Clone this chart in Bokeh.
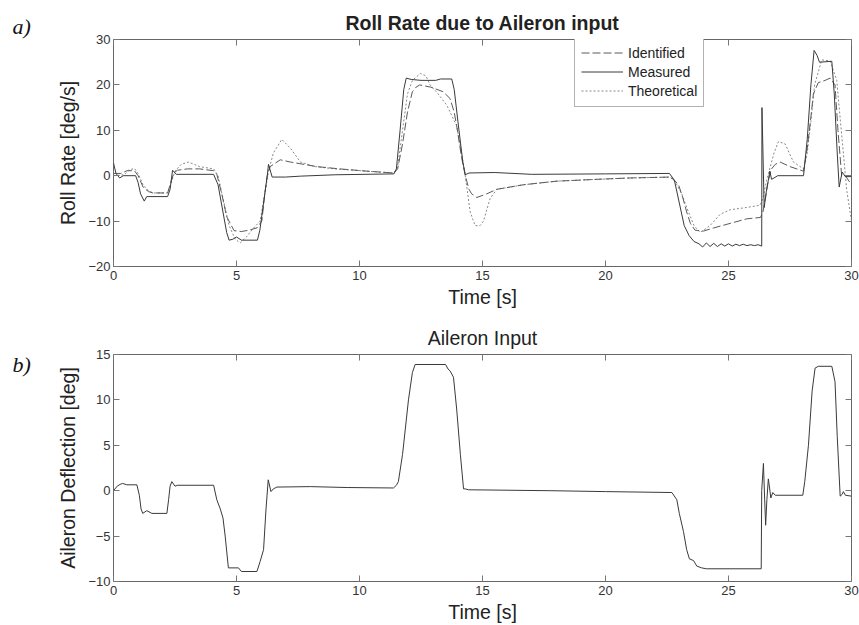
from bokeh.plotting import figure
from bokeh.models import (Range1d, LinearAxis, FixedTicker, Legend, LegendItem, Title)
from bokeh.core.properties import value
from bokeh.layouts import column, row
from bokeh.embed import file_html
from bokeh.resources import INLINE

# ---------------- data ----------------
t_meas = [0.0, 0.1, 0.25, 0.4, 0.9, 1.0, 1.1, 1.25, 1.35, 2.2, 2.3, 2.4, 2.55, 4.07, 4.25, 4.45,
          4.6, 4.7, 4.85, 5.0, 5.2, 5.85, 5.95, 6.1, 6.25, 6.3, 6.45, 7.0, 7.6, 9.0, 11.4, 11.5,
          11.65, 11.8, 11.9, 12.1, 12.5, 13.1, 13.3, 13.75, 13.85, 14.0, 14.2, 14.3, 14.45, 15.5,
          17.0, 20.0, 22.6, 22.8, 23.0, 23.2, 23.4, 23.6, 23.8, 23.95, 24.1, 24.25, 24.4, 24.55,
          24.7, 24.85, 25.0, 25.15, 25.3, 25.45, 25.6, 25.75, 25.9, 26.05, 26.2, 26.35, 26.36,
          26.45, 26.55, 26.62, 26.68, 26.75, 26.85, 27.0, 28.05, 28.2, 28.35, 28.48, 28.6, 28.7,
          29.2, 29.3, 29.42, 29.5, 29.62, 29.75, 30.0]
measured = [2.8, 0.5, -0.5, 0.0, 0.0, -1.5, -4.0, -5.6, -4.6, -4.6, -3.0, 1.2, 0.3, 0.3, -2.0, -8.0,
            -12.5, -14.2, -14.0, -13.5, -14.2, -14.2, -12.0, -6.0, 0.0, 2.5, -0.3, -0.3, -0.1, 0.2, 0.4, 1.5,
            10.0, 19.0, 21.5, 21.2, 21.0, 21.0, 21.3, 21.3, 19.0, 12.0, 3.0, 0.2, 0.6, 0.7,
            0.3, 0.4, 0.5, -1.0, -6.0, -11.0, -13.2, -14.5, -15.0, -15.7, -14.8, -15.6, -14.9, -15.6,
            -15.0, -15.5, -15.0, -15.5, -15.1, -15.4, -15.1, -15.4, -15.2, -15.4, -15.2, -15.5, 15.0,
            -7.0, -3.0, -1.0, 1.0, -0.8, -0.5, 0.0, 0.0, 8.0, 20.0, 27.6, 26.5, 25.0,
            25.2, 18.0, 5.0, -2.5, 0.8, -0.2, -0.2]

t_ident = [0.0, 0.3, 0.55, 0.85, 1.0, 1.2, 1.42, 1.6, 2.2, 2.3, 2.45, 2.6, 3.0, 3.5, 4.07, 4.2, 4.4,
           4.6, 4.9, 5.2, 5.5, 5.83, 6.03, 6.15, 6.25, 6.37, 6.78, 7.2, 8.27, 9.2, 10.3, 11.4, 11.55,
           11.75, 11.95, 12.15, 12.3, 12.45, 12.9, 13.4, 13.68, 13.85, 13.95, 14.15, 14.3, 14.45,
           14.56, 14.77, 15.17, 15.58, 16.66, 18.02, 19.65, 21.0, 22.63, 22.8, 22.97, 23.15, 23.3,
           23.45, 23.64, 23.98, 24.4, 25.07, 25.74, 26.3, 26.4, 26.5, 26.62, 26.75, 26.9, 27.1,
           27.5, 28.05, 28.2, 28.35, 28.45, 28.65, 28.93, 29.13, 29.33, 29.45, 29.6, 29.75, 30.0]
identified = [0.5, 0.5, 1.1, 1.1, 0.0, -2.5, -3.5, -3.8, -3.8, -2.0, 0.6, 1.2, 1.5, 1.5, 1.1, 0.3, -4.0,
              -9.0, -12.1, -12.3, -12.0, -11.5, -10.0, -4.0, 0.0, 2.0, 3.5, 3.0, 2.0, 1.5, 1.0, 0.6, 1.5,
              7.0, 14.0, 18.5, 19.5, 20.0, 19.5, 18.5, 17.0, 14.0, 11.0, 4.0, 0.0, -3.0,
              -4.0, -4.8, -4.0, -3.0, -2.0, -1.2, -0.8, -0.5, -0.3, -1.0, -2.0, -5.0, -8.0,
              -10.5, -12.0, -12.2, -11.5, -10.5, -9.5, -9.2, -8.0, -5.0, -1.0, 1.5, 2.5, 3.0,
              2.0, 1.0, 6.0, 13.0, 18.0, 20.5, 21.0, 21.5, 20.0, 10.0, 0.0, 0.0, -2.0]

t_theo = [0.0, 0.45, 0.6, 0.85, 1.0, 1.2, 1.35, 1.6, 2.2, 2.35, 2.5, 2.75, 3.05, 3.5, 4.07, 4.25, 4.45,
          4.7, 4.95, 5.15, 5.4, 5.7, 5.96, 6.15, 6.3, 6.5, 6.84, 7.2, 7.6, 8.2, 9.0, 10.3, 11.4, 11.55,
          11.75, 11.95, 12.15, 12.47, 12.7, 12.87, 13.2, 13.55, 13.95, 14.15, 14.3, 14.5, 14.7, 14.9,
          15.04, 15.31, 15.58, 16.66, 18.02, 19.65, 21.0, 22.63, 22.85, 23.1, 23.37, 23.6, 23.85,
          24.25, 24.66, 25.07, 25.74, 26.28, 26.4, 26.55, 26.7, 26.85, 27.03, 27.3, 27.64, 28.05,
          28.2, 28.35, 28.5, 28.79, 29.13, 29.4, 29.55, 29.67, 29.8, 30.0]
theoretical = [0.0, 0.2, 1.2, 1.6, 0.5, -2.0, -3.0, -3.8, -3.8, -1.5, 1.0, 2.5, 3.0, 2.0, 1.5, 0.0, -5.0,
               -11.0, -14.0, -14.8, -13.5, -11.5, -10.0, -4.0, 1.0, 5.0, 8.0, 6.0, 3.0, 2.0, 1.5, 1.0, 0.6, 2.0,
               10.0, 18.0, 21.0, 22.5, 22.0, 20.0, 18.0, 15.5, 11.0, 5.0, 0.0, -8.0, -11.0, -11.0,
               -10.0, -5.0, -3.0, -2.0, -1.2, -0.8, -0.5, -0.3, -1.5, -4.0, -8.0, -11.0, -12.5,
               -11.0, -8.5, -7.5, -7.0, -6.5, -5.0, -1.0, 2.0, 5.0, 7.5, 7.0, 3.0, 1.5,
               5.0, 12.0, 20.0, 25.5, 25.3, 21.0, 12.0, 5.0, -3.0, -10.0]

t_ail = [0.0, 0.15, 0.27, 0.37, 0.54, 0.95, 1.05, 1.12, 1.19, 1.35, 1.56, 2.17, 2.24, 2.3, 2.37, 2.5,
         2.6, 4.07, 4.2, 4.34, 4.45, 4.54, 4.67, 5.08, 5.2, 5.83, 5.96, 6.1, 6.2, 6.29, 6.4, 6.5, 6.64,
         8.0, 9.5, 11.38, 11.5, 11.58, 11.75, 11.99, 12.15, 12.26, 13.5, 13.6, 13.68, 13.82, 13.95,
         14.1, 14.23, 14.3, 14.43, 17.75, 20.0, 22.7, 22.9, 23.0, 23.17, 23.3, 23.41, 23.58, 23.71,
         23.91, 24.1, 26.33, 26.35, 26.42, 26.47, 26.51, 26.56, 26.62, 26.67, 26.72, 26.8, 26.9,
         28.02, 28.1, 28.25, 28.4, 28.52, 28.65, 29.2, 29.33, 29.42, 29.54, 29.62, 29.67, 29.75, 30.0]
aileron = [0.0, 0.5, 0.7, 0.8, 0.65, 0.65, -0.5, -2.0, -2.5, -2.2, -2.5, -2.5, -1.0, 0.5, 1.0, 0.5,
           0.6, 0.6, -1.0, -2.0, -3.0, -5.0, -8.5, -8.5, -8.9, -8.9, -7.8, -6.5, -2.0, 1.2, -0.1, 0.2, 0.4,
           0.45, 0.35, 0.3, 0.6, 1.0, 4.0, 10.0, 13.0, 13.9, 13.9, 13.4, 13.2, 12.5, 9.0,
           4.0, 0.2, 0.2, 0.1, 0.0, -0.1, -0.2, -1.0, -2.5, -4.5, -6.5, -7.5, -7.7, -8.3,
           -8.5, -8.6, -8.6, 0.0, 3.0, -1.0, -3.8, -1.0, 1.3, 0.3, -0.8, -0.2, -0.5,
           -0.5, 1.0, 5.0, 11.0, 13.5, 13.7, 13.7, 12.0, 6.0, -0.6, -0.4, -0.1, -0.5, -0.6]

time_ticks = [0, 5, 10, 15, 20, 25, 30]
roll_ticks = [-20, -10, 0, 10, 20, 30]
roll_tick_labels = ["\u221220", "\u221210", "0", "10", "20", "30"]
ail_ticks = [-10, -5, 0, 5, 10, 15]
ail_tick_labels = ["\u221210", "\u22125", "0", "5", "10", "15"]
panel_tags = ["a)", "b)"]

FONT = "Liberation Sans"
TAG_FONT = "Liberation Serif"
TICK_COLOR = "#777777"
SIDE_W = 40


def style_axes(p, yticks, ylabels, ylabel):
    p.xgrid.visible = False
    p.ygrid.visible = False
    p.outline_line_color = "#666666"
    p.outline_line_width = 1
    p.background_fill_color = "white"
    p.border_fill_color = "white"
    xa = p.xaxis[0]
    ya = p.yaxis[0]
    xa.ticker = FixedTicker(ticks=time_ticks)
    ya.ticker = FixedTicker(ticks=yticks)
    ya.major_label_overrides = {float(v): s for v, s in zip(yticks, ylabels)}
    for ax in (xa, ya):
        ax.axis_line_color = None
        ax.major_tick_in = 6
        ax.major_tick_out = 0
        ax.major_tick_line_color = TICK_COLOR
        ax.minor_tick_line_color = None
        ax.major_label_text_font = FONT
        ax.major_label_text_font_size = "13px"
        ax.major_label_text_color = "#333333"
        ax.axis_label_text_font = FONT
        ax.axis_label_text_font_size = "19.5px"
        ax.axis_label_text_font_style = "normal"
        ax.axis_label_text_color = "#222222"
    xa.axis_label = "Time [s]"
    xa.major_label_standoff = 4
    xa.axis_label_standoff = 3
    ya.axis_label = ylabel
    ya.major_label_standoff = 3
    ya.axis_label_standoff = 6
    # box ticks on top and right
    top = LinearAxis(ticker=FixedTicker(ticks=time_ticks))
    right = LinearAxis(ticker=FixedTicker(ticks=yticks))
    for ax in (top, right):
        ax.axis_line_color = None
        ax.major_tick_in = 6
        ax.major_tick_out = 0
        ax.major_tick_line_color = TICK_COLOR
        ax.minor_tick_line_color = None
        ax.major_label_text_font_size = "0px"
        ax.major_label_standoff = 0
    top.major_label_overrides = {float(v): "" for v in time_ticks}
    right.major_label_overrides = {float(v): "" for v in yticks}
    p.add_layout(top, "above")
    p.add_layout(right, "right")


def blank_side(height):
    s = figure(width=SIDE_W, height=height, x_range=Range1d(0, SIDE_W), y_range=Range1d(0, 1),
               output_backend="svg", toolbar_location=None, min_border=0,
               x_axis_location=None, y_axis_location=None)
    s.grid.visible = False
    s.outline_line_color = None
    s.background_fill_color = "white"
    s.border_fill_color = "white"
    return s


# ---------------- top figure ----------------
H1 = 312
p1 = figure(width=859 - SIDE_W, height=H1, x_range=Range1d(0, 30), y_range=Range1d(-20, 30),
            output_backend="svg", toolbar_location=None,
            min_border_left=113 - SIDE_W, min_border_right=8, min_border_top=39, min_border_bottom=46)
p1.title.text = "Roll Rate due to Aileron input"
p1.title.align = "center"
p1.title.text_font = FONT
p1.title.text_font_size = "19.5px"
p1.title.text_font_style = "bold"
p1.title.text_color = "#222222"
p1.title.standoff = 12
style_axes(p1, roll_ticks, roll_tick_labels, "Roll Rate [deg/s]")

r_theo = p1.line(t_theo, theoretical, line_color="#888888", line_width=1, line_dash="2 2")
r_ident = p1.line(t_ident, identified, line_color="#5a5a5a", line_width=1, line_dash="8 3")
r_meas = p1.line(t_meas, measured, line_color="#3a3a3a", line_width=1)

legend = Legend(items=[LegendItem(label="Identified", renderers=[r_ident]),
                       LegendItem(label="Measured", renderers=[r_meas]),
                       LegendItem(label="Theoretical", renderers=[r_theo])],
                location=(461, 159))
legend.label_text_font = FONT
legend.label_text_font_size = "14px"
legend.label_text_color = "#222222"
legend.glyph_width = 42
legend.glyph_height = 19
legend.label_height = 19
legend.spacing = 0
legend.padding = 6
legend.label_standoff = 5
legend.border_line_color = "#666666"
legend.border_line_width = 1
legend.background_fill_alpha = 1.0
legend.margin = 0
p1.add_layout(legend, "center")

# ---------------- bottom figure ----------------
H2 = 313
TOP2, BOT2 = 42, 43
p2 = figure(width=859 - SIDE_W, height=H2, x_range=Range1d(0, 30), y_range=Range1d(-10, 15),
            output_backend="svg", toolbar_location=None,
            min_border_left=113 - SIDE_W, min_border_right=8, min_border_top=TOP2, min_border_bottom=BOT2)
p2.title.text = "Aileron Input"
p2.title.align = "center"
p2.title.text_font = FONT
p2.title.text_font_size = "19.5px"
p2.title.text_font_style = "normal"
p2.title.text_color = "#222222"
p2.title.standoff = 12
style_axes(p2, ail_ticks, ail_tick_labels, "Aileron Deflection [deg]")
p2.xaxis[0].axis_label_standoff = 0
p2.xaxis[0].major_label_standoff = 3
p2.line(t_ail, aileron, line_color="#3a3a3a", line_width=1)

# ---------------- panel tags ("a)" above the top frame, "b)" inside the second row) -------------
s1 = blank_side(H1)
s1.title = Title(text=panel_tags[0], align="left", offset=12, standoff=1,
                 text_font=TAG_FONT, text_font_style="italic", text_font_size="22px",
                 text_color="#111111")

s2 = blank_side(H2)
s2.title = None
frame_h2 = H2 - TOP2 - BOT2
s2.y_range = Range1d(0, frame_h2)
s2.text(x=[12], y=[frame_h2 - 10], text=[panel_tags[1]],
        text_font=value(TAG_FONT), text_font_style="italic",
        text_font_size="22px", text_color="#111111", text_baseline="alphabetic")

layout = column(row(s1, p1), row(s2, p2))
open("out.html", "w").write(file_html(layout, INLINE))
